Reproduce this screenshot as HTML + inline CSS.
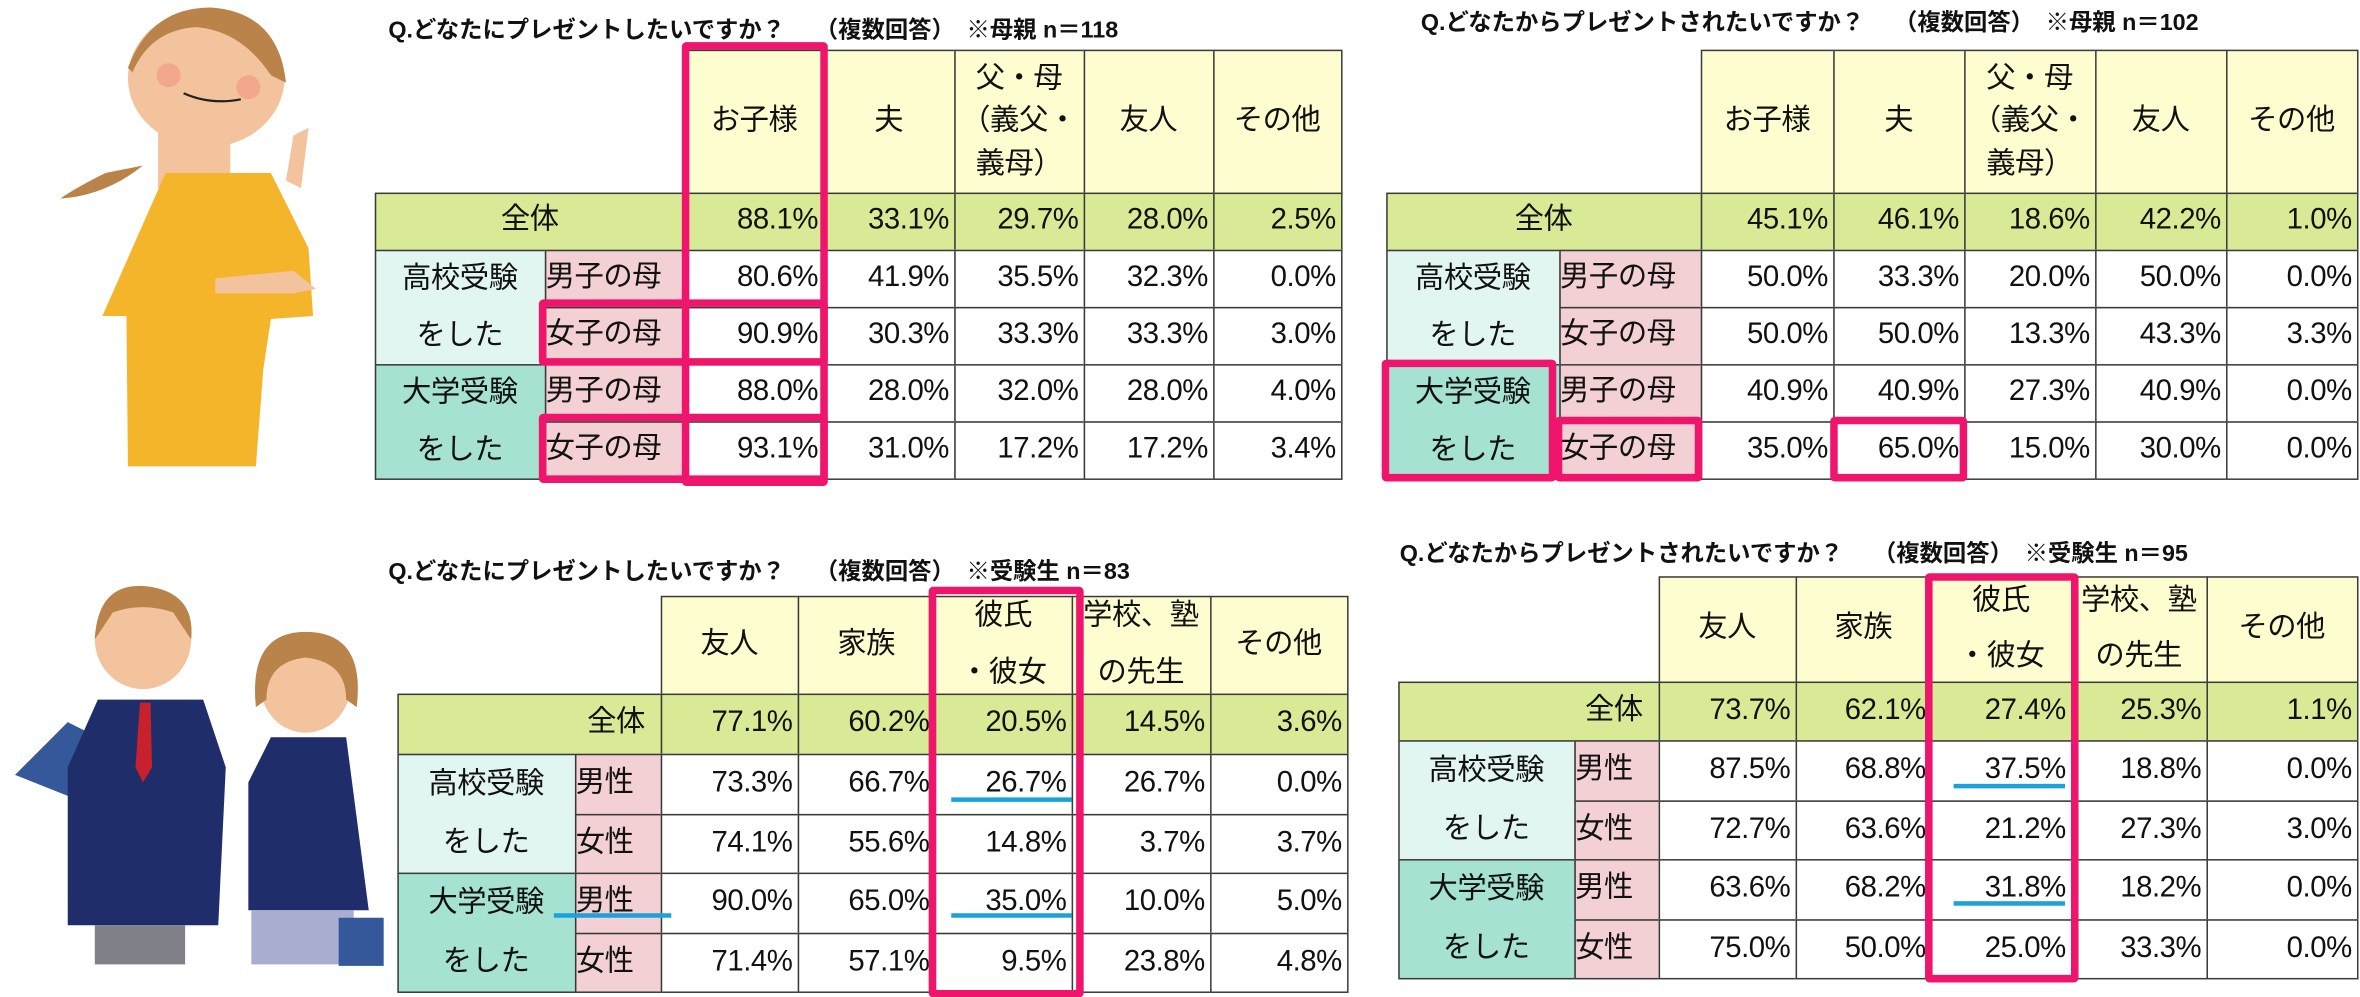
<!DOCTYPE html>
<html><head><meta charset="utf-8">
<style>
html,body{margin:0;padding:0;background:#fff;}
body{width:2360px;height:996px;overflow:hidden;position:relative;}
#stage{position:absolute;left:0;top:0;width:1568px;height:662px;transform-origin:0 0;transform:scale(1.5051,1.5045);font-family:"Liberation Sans","Noto Sans CJK JP",sans-serif;color:#111;}
.cell{position:absolute;box-sizing:border-box;border:1px solid #3a3a3a;margin:-0.5px;display:flex;align-items:center;font-size:19.5px;line-height:1.6;letter-spacing:-0.3px;}
.title{position:absolute;font-weight:bold;font-size:15.5px;white-space:pre;}
.hl{position:absolute;box-sizing:border-box;border:5px solid #f0156c;border-radius:3px;}
.ul{position:absolute;height:3px;background:#1ba1dc;}
</style></head><body>
<div id="stage">
<svg style="position:absolute;left:40px;top:0" width="180" height="312" viewBox="0 0 180 312">
 <path d="M30 115 Q10 125 0 132 Q30 130 55 110 Z" fill="#b9834a"/>
 <rect x="65" y="85" width="48" height="40" fill="#f3c39d"/>
 <path d="M28 210 L70 115 L140 115 L165 165 L168 210 L140 212 L135 245 L130 310 L45 310 L44 210 Z" fill="#f5b52a"/>
 <path d="M103 185 L155 180 L170 192 L155 195 L103 195 Z" fill="#f3c39d"/>
 <path d="M150 120 L155 90 L165 85 L160 125 Z" fill="#f3c39d"/>
 <ellipse cx="97" cy="52" rx="52" ry="46" fill="#f3c39d"/>
 <path d="M45 45 Q60 5 100 5 Q145 8 150 55 L140 50 Q120 20 90 18 Q60 20 48 48 Z" fill="#b9834a"/>
 <circle cx="72" cy="50" r="8" fill="#f2a08a" opacity=".8"/><circle cx="125" cy="58" r="8" fill="#f2a08a" opacity=".8"/>
 <path d="M82 62 Q100 70 120 66" stroke="#222" fill="none" stroke-width="1.5"/>
</svg>
<svg style="position:absolute;left:5px;top:385px" width="250" height="260" viewBox="0 0 250 260">
 <path d="M5 130 L40 95 L70 110 L55 150 Z" fill="#34589a"/>
 <path d="M40 125 L60 80 L130 80 L145 125 L140 230 L40 230 Z" fill="#1f2d6b"/>
 <rect x="58" y="230" width="60" height="26" fill="#808088"/>
 <path d="M88 82 L95 82 L96 125 L90 135 L85 125 Z" fill="#c9202e"/>
 <ellipse cx="90" cy="40" rx="32" ry="33" fill="#f3c39d"/>
 <path d="M58 40 Q60 0 95 5 Q125 10 122 40 L110 22 Q90 15 70 22 Z" fill="#b9834a"/>
 <path d="M160 135 L175 105 L225 105 L240 220 L160 220 Z" fill="#1f2d6b"/>
 <rect x="162" y="220" width="68" height="36" fill="#a8aed0"/>
 <rect x="220" y="225" width="30" height="32" fill="#34589a"/>
 <ellipse cx="198" cy="70" rx="30" ry="32" fill="#f3c39d"/>
 <path d="M165 85 Q160 35 198 35 Q238 35 232 85 L225 80 Q225 55 198 52 Q172 55 172 80 Z" fill="#b9834a"/>
</svg>
<div id="tables"></div>
</div>
<script>
// ---- data ----
const t1Title="Q.どなたにプレゼントしたいですか？　 （複数回答）　※母親 n＝118";
const t1Headers=["お子様","夫","父・母<br>（義父・<br>義母）","友人","その他"];
const t1Subs=["男子の母","女子の母","男子の母","女子の母"];
const t1Total=["88.1%","33.1%","29.7%","28.0%","2.5%"];
const t1Rows=[["80.6%","41.9%","35.5%","32.3%","0.0%"],["90.9%","30.3%","33.3%","33.3%","3.0%"],["88.0%","28.0%","32.0%","28.0%","4.0%"],["93.1%","31.0%","17.2%","17.2%","3.4%"]];

const t2Title="Q.どなたからプレゼントされたいですか？　 （複数回答）　※母親 n＝102";
const t2Headers=["お子様","夫","父・母<br>（義父・<br>義母）","友人","その他"];
const t2Subs=["男子の母","女子の母","男子の母","女子の母"];
const t2Total=["45.1%","46.1%","18.6%","42.2%","1.0%"];
const t2Rows=[["50.0%","33.3%","20.0%","50.0%","0.0%"],["50.0%","50.0%","13.3%","43.3%","3.3%"],["40.9%","40.9%","27.3%","40.9%","0.0%"],["35.0%","65.0%","15.0%","30.0%","0.0%"]];

const t3Title="Q.どなたにプレゼントしたいですか？　 （複数回答）　※受験生 n＝83";
const t3Headers=["友人","家族","彼氏<br>・彼女","学校、塾<br>の先生","その他"];
const t3Subs=["男性","女性","男性","女性"];
const t3Total=["77.1%","60.2%","20.5%","14.5%","3.6%"];
const t3Rows=[["73.3%","66.7%","26.7%","26.7%","0.0%"],["74.1%","55.6%","14.8%","3.7%","3.7%"],["90.0%","65.0%","35.0%","10.0%","5.0%"],["71.4%","57.1%","9.5%","23.8%","4.8%"]];

const t4Title="Q.どなたからプレゼントされたいですか？　 （複数回答）　※受験生 n＝95";
const t4Headers=["友人","家族","彼氏<br>・彼女","学校、塾<br>の先生","その他"];
const t4Subs=["男性","女性","男性","女性"];
const t4Total=["73.7%","62.1%","27.4%","25.3%","1.1%"];
const t4Rows=[["87.5%","68.8%","37.5%","18.8%","0.0%"],["72.7%","63.6%","21.2%","27.3%","3.0%"],["63.6%","68.2%","31.8%","18.2%","0.0%"],["75.0%","50.0%","25.0%","33.3%","0.0%"]];

const groupLabels=["高校受験<br>をした","大学受験<br>をした"];

const root=document.getElementById('tables');
function cell(x0,y0,x1,y1,html,bg,align,name){
  const d=document.createElement('div');
  d.className='cell';
  d.style.left=x0+'px';d.style.top=y0+'px';d.style.width=(x1-x0+1)+'px';d.style.height=(y1-y0+1)+'px';
  d.style.background=bg;
  d.style.justifyContent=align;
  if(align==='flex-end')d.style.paddingRight='3px';
  if(align==='center')d.style.textAlign='center';
  d.innerHTML=html;
  
  
  root.appendChild(d);
  return d;
}
function buildTable(id,cfg,title,headers,subs,total,rows){
  const t=document.createElement('div');
  t.className='title';t.style.left=cfg.tx+'px';t.style.top=cfg.ty+'px';t.textContent=title;
  
  
  root.appendChild(t);
  const C=cfg.cols,R=cfg.rows;
  const Y='#fefdd0',G='#d9ea96',LB='#e2f6f1',TB='#a6e2d2',PK='#f3d0d4';
  headers.forEach((h,i)=>{const c=cell(C[2+i],R[0],C[3+i],R[1],h,Y,'center',id+'-header-'+i);c.style.lineHeight=cfg.hlh;});
  const tc=cell(C[0],R[1],C[2],R[2],'全体',G,cfg.totalAlign,id+'-total-label');
  if(cfg.totalAlign==='flex-end')tc.style.paddingRight='10px';
  total.forEach((v,i)=>cell(C[2+i],R[1],C[3+i],R[2],v,G,'flex-end',id+'-total-'+i));
  groupLabels.forEach((g,k)=>{const c=cell(C[0],R[2+2*k],C[1],R[4+2*k],g,k?TB:LB,'center',id+'-group-'+k);c.style.lineHeight='1.95';});
  subs.forEach((s,r)=>cell(C[1],R[2+r],C[2],R[3+r],s,PK,'flex-start',id+'-sub-'+r));
  rows.forEach((row,r)=>row.forEach((v,i)=>cell(C[2+i],R[2+r],C[3+i],R[3+r],v,'#fff','flex-end',id+'-r'+r+'-c'+i)));
}
buildTable('mother-give',{tx:258,ty:8,cols:[249,362,455,547,634,720,806,891],rows:[33,128,166,204,242,280,318],hlh:'1.45',totalAlign:'center'},t1Title,t1Headers,t1Subs,t1Total,t1Rows);
buildTable('mother-receive',{tx:944,ty:3,cols:[921,1036,1130,1218,1305,1392,1479,1566],rows:[33,128,166,204,242,280,318],hlh:'1.45',totalAlign:'center'},t2Title,t2Headers,t2Subs,t2Total,t2Rows);
buildTable('student-give',{tx:258,ty:368,cols:[264,382,439,530,621,712,804,895],rows:[396,461,501,541,580,620,659],hlh:'1.9',totalAlign:'flex-end'},t3Title,t3Headers,t3Subs,t3Total,t3Rows);
buildTable('student-receive',{tx:930,ty:356,cols:[929,1046,1102,1193,1283,1376,1466,1566],rows:[383,453,492,532,571,611,650],hlh:'1.9',totalAlign:'flex-end'},t4Title,t4Headers,t4Subs,t4Total,t4Rows);

function hl(x,y,w,h,name){const d=document.createElement('div');d.className='hl';d.style.left=x+'px';d.style.top=y+'px';d.style.width=w+'px';d.style.height=h+'px';


root.appendChild(d);}
function ul(x,y,w,name){const d=document.createElement('div');d.className='ul';d.style.left=x+'px';d.style.top=y+'px';d.style.width=w+'px';


root.appendChild(d);}
hl(453,28,97,295,'highlight-child-column');
hl(358,199,192,44,'highlight-girl-mother-hs');
hl(358,275,192,46,'highlight-girl-mother-univ');
hl(918,239,116,81,'highlight-univ-group');
hl(1033,277,98,43,'highlight-girl-mother-row');
hl(1216,277,91,43,'highlight-husband-65');
hl(617,390,103,273,'highlight-boyfriend-column-give');
hl(1279,381,102,272,'highlight-boyfriend-column-receive');
ul(632,530,80,'underline-26-7');
ul(632,607,80,'underline-35-0');
ul(368,607,78,'underline-univ-male');
ul(1298,521,74,'underline-37-5');
ul(1298,599,74,'underline-31-8');
</script>
</body></html>
